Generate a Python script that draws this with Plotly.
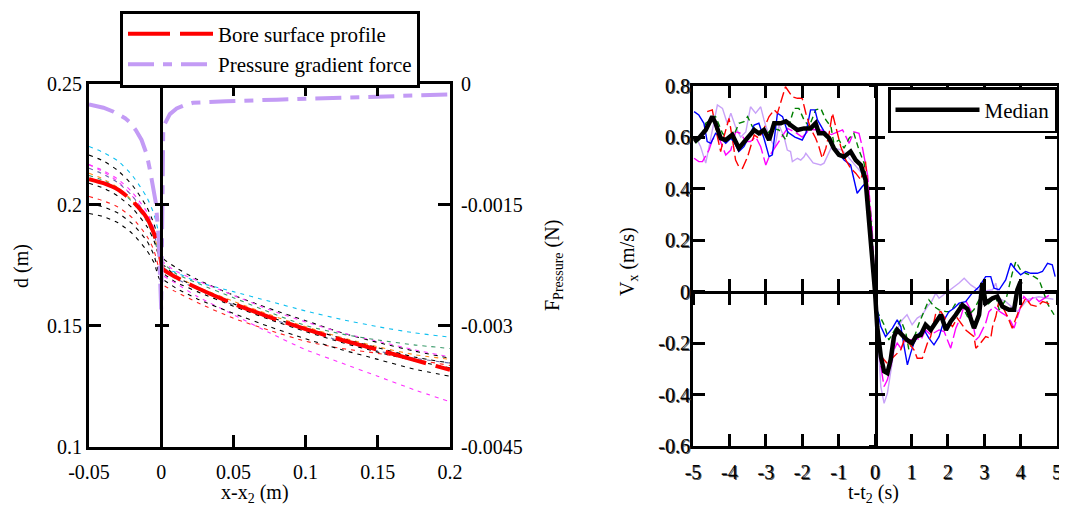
import plotly.graph_objects as go

# ---------------- Left panel data ----------------
x_prof = [-0.05, -0.04, -0.03, -0.02, -0.01, -0.005, -0.001,
          0.001, 0.01, 0.025, 0.05, 0.075, 0.1, 0.125, 0.15, 0.175, 0.2]
d_bore = [0.2105, 0.2088, 0.2062, 0.2015, 0.1945, 0.188, 0.180,
          0.1735, 0.170, 0.1655, 0.159, 0.1535, 0.1485, 0.144, 0.140, 0.1358, 0.1317]

d_cyan = [0.224, 0.2215, 0.218, 0.212, 0.203, 0.196, 0.186,
          0.174, 0.172, 0.168, 0.164, 0.160, 0.156, 0.1525, 0.1495, 0.147, 0.1452]
d_green = [0.212, 0.210, 0.2065, 0.201, 0.193, 0.186, 0.178,
           0.176, 0.1715, 0.1675, 0.1615, 0.1555, 0.150, 0.1465, 0.144, 0.142, 0.1405]
d_mag_low = [0.2165, 0.214, 0.2105, 0.205, 0.197, 0.190, 0.181,
             0.171, 0.1675, 0.162, 0.1545, 0.147, 0.140, 0.1345, 0.129, 0.1235, 0.1185]
d_red_thin = [0.2033, 0.2015, 0.199, 0.1945, 0.187, 0.181, 0.172,
              0.167, 0.164, 0.1595, 0.153, 0.148, 0.1435, 0.1405, 0.1385, 0.136, 0.1335]
d_blk_a = [0.2204, 0.218, 0.214, 0.208, 0.199, 0.192, 0.183,
           0.178, 0.174, 0.169, 0.1625, 0.157, 0.152, 0.147, 0.143, 0.1395, 0.1365]
d_blk_b = [0.1963, 0.195, 0.1925, 0.188, 0.181, 0.176, 0.169,
           0.169, 0.1655, 0.161, 0.155, 0.1495, 0.1445, 0.140, 0.136, 0.132, 0.129]
d_blk_c = [0.2088, 0.2068, 0.2035, 0.1985, 0.191, 0.185, 0.177,
           0.172, 0.168, 0.164, 0.158, 0.1525, 0.1475, 0.143, 0.139, 0.1355, 0.1325]
d_blk_d = [0.2004, 0.199, 0.1965, 0.192, 0.185, 0.179, 0.171,
           0.175, 0.1705, 0.1655, 0.159, 0.1535, 0.149, 0.1447, 0.1408, 0.137, 0.1345]
d_orange = [0.2129, 0.2105, 0.207, 0.2015, 0.1935, 0.187, 0.179,
            0.174, 0.1705, 0.166, 0.160, 0.1545, 0.1495, 0.145, 0.1412, 0.138, 0.136]
d_slate = [0.215, 0.2125, 0.209, 0.2035, 0.195, 0.188, 0.178,
           0.173, 0.1695, 0.165, 0.1585, 0.153, 0.148, 0.1435, 0.1395, 0.1365, 0.1345]
d_mag_up = [0.2164, 0.2135, 0.2095, 0.2035, 0.1955, 0.189, 0.180,
            0.1765, 0.1725, 0.1685, 0.1625, 0.1565, 0.1515, 0.147, 0.1435, 0.140, 0.137]

x_pgf = [-0.05, -0.04, -0.033, -0.025, -0.0217, -0.0175, -0.0136, -0.01, -0.0078, -0.0055,
         -0.0037, -0.0018, -0.0008, 0.0, 0.0004, 0.0008, 0.0014, 0.0025, 0.0037, 0.006,
         0.0107, 0.016, 0.022, 0.03, 0.045, 0.08, 0.12, 0.16, 0.2]
f_pgf = [-0.00026, -0.0003, -0.00035, -0.00043, -0.00048, -0.00058, -0.0007, -0.00088, -0.00107, -0.0013,
         -0.00148, -0.0019, -0.0024, -0.0028, -0.0022, -0.0012, -0.00058, -0.0005, -0.00045, -0.00038,
         -0.00031, -0.00027, -0.00024, -0.00023, -0.00022, -0.0002, -0.00018, -0.00016, -0.000136]

x_ticks_left = [-0.05, 0, 0.05, 0.1, 0.15, 0.2]
x_tick_text_left = ["-0.05", "0", "0.05", "0.1", "0.15", "0.2"]
d_ticks = [0.1, 0.15, 0.2, 0.25]
d_tick_text = ["0.1", "0.15", "0.2", "0.25"]
f_ticks = [0, -0.0015, -0.003, -0.0045]
f_tick_text = ["0", "-0.0015", "-0.003", "-0.0045"]

# ---------------- Right panel data ----------------
t_med = [-4.97, -4.84, -4.65, -4.47, -4.38, -4.24, -4.10, -3.92, -3.74, -3.60, -3.46, -3.32, -3.19, -3.05,
         -2.91, -2.77, -2.59, -2.45, -2.32, -2.13, -1.95, -1.77, -1.63, -1.54, -1.40, -1.26, -1.13, -0.99,
         -0.85, -0.67, -0.53, -0.39, -0.26, -0.16, -0.07, 0.0, 0.06, 0.16, 0.25, 0.34, 0.43, 0.52, 0.61,
         0.75, 0.88, 1.02, 1.12, 1.26, 1.39, 1.53, 1.67, 1.81, 1.95, 2.08, 2.22, 2.40, 2.54, 2.72, 2.86,
         2.95, 3.04, 3.23, 3.36, 3.50, 3.68, 3.82, 3.91, 4.0]
v_med = [0.583, 0.596, 0.628, 0.680, 0.654, 0.596, 0.589, 0.609, 0.557, 0.583, 0.609, 0.628, 0.615, 0.628,
         0.589, 0.654, 0.654, 0.662, 0.647, 0.628, 0.634, 0.634, 0.654, 0.615, 0.615, 0.596, 0.557, 0.531,
         0.524, 0.544, 0.511, 0.492, 0.434, 0.278, 0.097, 0.0, -0.136, -0.252, -0.310, -0.317, -0.265, -0.175,
         -0.149, -0.168, -0.188, -0.200, -0.175, -0.168, -0.129, -0.149, -0.116, -0.090, -0.149, -0.116,
         -0.090, -0.052, -0.068, -0.142, -0.090, 0.033, -0.045, -0.026, -0.019, -0.058, -0.071, -0.071,
         0.007, 0.039]

t_blue = [-4.97, -4.84, -4.70, -4.61, -4.51, -4.38, -4.24, -4.10, -3.96, -3.83, -3.74, -3.60, -3.46, -3.32,
          -3.19, -3.05, -2.91, -2.82, -2.68, -2.54, -2.40, -2.20, -2.00, -1.90, -1.77, -1.65, -1.58, -1.40,
          -1.21, -1.03, -0.85, -0.67, -0.58, -0.49, -0.35, -0.26, -0.12, 0.0, 0.06, 0.16, 0.29, 0.48, 0.61,
          0.71, 0.80, 0.89, 0.98, 1.07, 1.21, 1.35, 1.48, 1.62, 1.76, 1.90, 2.03, 2.17, 2.31, 2.49, 2.67,
          2.86, 3.04, 3.18, 3.27, 3.41, 3.59, 3.73, 3.87, 4.00, 4.14, 4.28, 4.46, 4.60, 4.74, 4.87, 4.95]
v_blue = [0.699, 0.686, 0.654, 0.583, 0.576, 0.615, 0.596, 0.576, 0.596, 0.570, 0.544, 0.563, 0.602, 0.647,
          0.654, 0.596, 0.524, 0.531, 0.693, 0.680, 0.62, 0.60, 0.589, 0.615, 0.706, 0.706, 0.667, 0.621,
          0.576, 0.544, 0.511, 0.492, 0.434, 0.382, 0.408, 0.421, 0.25, 0.0, -0.071, -0.136, -0.175, -0.142,
          -0.110, -0.136, -0.214, -0.285, -0.239, -0.200, -0.162, -0.149, -0.181, -0.207, -0.175, -0.110,
          -0.078, -0.065, -0.045, -0.039, -0.006, 0.019, 0.058, 0.058, 0.013, 0.007, 0.045, 0.110, 0.084,
          0.065, 0.078, 0.071, 0.071, 0.078, 0.110, 0.104, 0.058]

t_red = [-4.61, -4.47, -4.33, -4.24, -4.15, -4.01, -3.92, -3.83, -3.74, -3.64, -3.50, -3.32, -3.19, -3.05,
         -2.91, -2.77, -2.68, -2.59, -2.46, -2.27, -2.13, -2.00, -1.90, -1.77, -1.63, -1.54, -1.45, -1.35,
         -1.26, -1.17, -1.08, -0.94, -0.80, -0.67, -0.53, -0.39, -0.26, -0.16, -0.10, 0.0, 0.16, 0.34, 0.43,
         0.57, 0.71, 0.80, 0.93, 1.07, 1.16, 1.30, 1.44, 1.53, 1.67, 1.81, 1.95, 2.13, 2.26, 2.50, 2.72,
         2.77, 2.86, 3.04, 3.18, 3.23, 3.32, 3.41, 3.64, 3.77, 3.96, 4.14, 4.28, 4.46, 4.60, 4.74, 4.87]
v_red = [0.699, 0.706, 0.602, 0.544, 0.602, 0.673, 0.596, 0.511, 0.485, 0.479, 0.524, 0.609, 0.596, 0.634,
         0.680, 0.706, 0.693, 0.738, 0.796, 0.757, 0.751, 0.751, 0.693, 0.634, 0.596, 0.563, 0.518, 0.557,
         0.615, 0.693, 0.641, 0.563, 0.511, 0.479, 0.460, 0.434, 0.505, 0.343, 0.200, 0.0, -0.250, -0.280,
         -0.265, -0.246, -0.226, -0.188, -0.200, -0.226, -0.259, -0.259, -0.200, -0.175, -0.084, -0.078,
         -0.110, -0.136, -0.103, -0.150, -0.175, -0.220, -0.207, -0.175, -0.181, -0.136, -0.097, -0.032,
         -0.097, -0.142, -0.071, -0.026, -0.052, -0.058, -0.039, -0.045, -0.058]

t_grn = [-4.93, -4.79, -4.65, -4.51, -4.38, -4.19, -4.06, -3.87, -3.74, -3.60, -3.50, -3.37, -3.19, -3.00,
         -2.82, -2.64, -2.45, -2.32, -2.22, -2.09, -1.95, -1.81, -1.63, -1.49, -1.35, -1.21, -1.13, -0.99,
         -0.85, -0.71, -0.58, -0.44, -0.30, -0.21, -0.12, 0.0, 0.06, 0.16, 0.25, 0.38, 0.48, 0.57, 0.71,
         0.85, 0.93, 1.07, 1.21, 1.35, 1.48, 1.62, 1.76, 1.95, 2.08, 2.22, 2.40, 2.54, 2.72, 2.90, 3.10,
         3.32, 3.41, 3.60, 3.77, 3.87, 4.00, 4.14, 4.37, 4.51, 4.60, 4.75, 4.92]
v_grn = [0.576, 0.596, 0.654, 0.667, 0.680, 0.615, 0.596, 0.609, 0.654, 0.660, 0.680, 0.641, 0.621, 0.609,
         0.634, 0.628, 0.589, 0.667, 0.712, 0.712, 0.667, 0.641, 0.706, 0.712, 0.667, 0.641, 0.576, 0.589,
         0.557, 0.596, 0.615, 0.550, 0.499, 0.408, 0.304, 0.0, -0.078, -0.103, -0.129, -0.188, -0.162,
         -0.142, -0.110, -0.162, -0.226, -0.181, -0.123, -0.078, -0.032, -0.058, -0.071, -0.078, -0.078,
         -0.045, -0.058, -0.097, -0.070, -0.020, -0.050, -0.019, -0.071, -0.030, 0.071, 0.117, 0.084, 0.071,
         0.058, 0.045, 0.007, -0.050, -0.090]

t_mag = [-4.97, -4.84, -4.74, -4.56, -4.47, -4.33, -4.19, -4.10, -3.96, -3.83, -3.69, -3.55, -3.42, -3.28,
         -3.14, -3.00, -2.91, -2.73, -2.54, -2.41, -2.20, -2.00, -1.80, -1.49, -1.20, -0.89, -0.71, -0.58,
         -0.44, -0.35, -0.20, -0.08, 0.0, 0.16, 0.25, 0.34, 0.43, 0.52, 0.61, 0.71, 0.85, 0.98, 1.12, 1.26,
         1.39, 1.53, 1.76, 1.90, 1.99, 2.08, 2.22, 2.36, 2.49, 2.63, 2.77, 2.86, 3.04, 3.13, 3.27, 3.45,
         3.64, 3.73, 3.82, 4.09, 4.23, 4.37, 4.51, 4.74, 4.87]
v_mag = [0.518, 0.505, 0.505, 0.550, 0.589, 0.615, 0.563, 0.531, 0.550, 0.621, 0.615, 0.583, 0.583, 0.602,
         0.563, 0.492, 0.524, 0.563, 0.609, 0.634, 0.62, 0.60, 0.63, 0.628, 0.61, 0.628, 0.576, 0.621, 0.615,
         0.563, 0.45, 0.25, 0.0, -0.291, -0.369, -0.343, -0.291, -0.226, -0.200, -0.220, -0.188, -0.188,
         -0.181, -0.188, -0.149, -0.168, -0.149, -0.155, -0.188, -0.220, -0.142, -0.097, -0.035, -0.071,
         -0.188, -0.175, -0.123, -0.078, -0.058, -0.08, -0.097, -0.116, -0.142, -0.019, -0.039, -0.019,
         -0.039, -0.019, -0.006]

t_lav = [-4.93, -4.79, -4.65, -4.56, -4.45, -4.33, -4.19, -4.06, -3.96, -3.83, -3.69, -3.55, -3.42, -3.28,
         -3.14, -3.05, -2.90, -2.75, -2.64, -2.50, -2.41, -2.32, -2.27, -2.13, -2.04, -1.95, -1.90, -1.70,
         -1.49, -1.40, -1.20, -0.90, -0.60, -0.30, -0.10, 0.0, 0.16, 0.25, 0.34, 0.50, 0.60, 0.75, 0.88,
         1.02, 1.16, 1.30, 1.44, 1.55, 1.67, 1.76, 2.00, 2.31, 2.45, 2.63, 2.90, 3.23, 3.32, 3.41, 3.60,
         3.91, 4.20, 4.50, 4.90]
v_lav = [0.602, 0.563, 0.499, 0.563, 0.650, 0.725, 0.712, 0.654, 0.693, 0.640, 0.600, 0.620, 0.718, 0.693,
         0.718, 0.667, 0.600, 0.560, 0.647, 0.602, 0.550, 0.544, 0.505, 0.518, 0.511, 0.524, 0.537, 0.50,
         0.492, 0.499, 0.56, 0.55, 0.50, 0.45, 0.25, 0.0, -0.369, -0.434, -0.395, -0.250, -0.150, -0.110,
         -0.090, -0.129, -0.103, -0.09, -0.058, -0.04, -0.006, -0.026, 0.0, 0.033, 0.052, 0.026, 0.0, 0.007,
         0.033, -0.026, -0.040, -0.078, -0.030, -0.020, -0.030]

t_ticks = [-5, -4, -3, -2, -1, 0, 1, 2, 3, 4, 5]
t_tick_text = ["-5", "-4", "-3", "-2", "-1", "0", "1", "2", "3", "4", "5"]
v_ticks = [-0.6, -0.4, -0.2, 0, 0.2, 0.4, 0.6, 0.8]
v_tick_text = ["-0.6", "-0.4", "-0.2", "0", "0.2", "0.4", "0.6", "0.8"]

# ---------------- Geometry (window pixels -> paper) ----------------
# the page body has an 8px margin, so the figure is drawn 8px in from the top-left corner
OFF = 8
W, H = 1067 - OFF, 508 - OFF
FONT = "Liberation Serif, Times New Roman, serif"
SHADOW = "1px 1px 0px #555"


def px(v):
    return (v - OFF) / W


def py(v):
    return 1 - (v - OFF) / H


left_dom_x = [px(89), px(450)]
left_dom_y = [py(446.5), py(83.5)]
right_dom_x = [px(693), px(1057)]
right_dom_y = [py(446), py(85.7)]

fig = go.Figure()

# ---- left panel thin profiles ----
thin = [
    (d_cyan, "#10c0f0"), (d_blk_a, "#000000"), (d_mag_up, "#ff40ff"), (d_orange, "#ff8c1a"),
    (d_slate, "#6a6aa8"), (d_green, "#3a9a6a"), (d_blk_c, "#000000"), (d_mag_low, "#ff30ff"),
    (d_red_thin, "#ff2020"), (d_blk_d, "#000000"), (d_blk_b, "#000000"),
]
for dvals, col in thin:
    fig.add_trace(go.Scatter(x=x_prof, y=dvals, mode="lines", showlegend=False, hoverinfo="skip",
                             line=dict(color=col, width=1.1, dash="4px,5px", shape="spline", smoothing=0.6),
                             xaxis="x", yaxis="y"))

fig.add_trace(go.Scatter(x=x_prof, y=d_bore, mode="lines", name="Bore surface profile",
                         line=dict(color="#ff0000", width=4, dash="42px,10px", shape="spline", smoothing=0.6),
                         xaxis="x", yaxis="y", legend="legend"))
fig.add_trace(go.Scatter(x=x_pgf, y=f_pgf, mode="lines", name="Pressure gradient force",
                         line=dict(color="#c39bf5", width=4, dash="26px,9px,9px,9px"),
                         xaxis="x", yaxis="y2", legend="legend"))

# invisible markers registering the zero-line axes of the left panel
for ya in ["y3", "y4"]:
    fig.add_trace(go.Scatter(x=[0], y=[0.2], mode="markers", marker=dict(opacity=0), showlegend=False,
                             hoverinfo="skip", xaxis="x", yaxis=ya))

# ---- right panel ----
series = [
    (t_lav, v_lav, "#c8a2f8", "solid"),
    (t_mag, v_mag, "#ff00ff", "16px,4px"),
    (t_grn, v_grn, "#008000", "6px,4px"),
    (t_blue, v_blue, "#0000ff", "solid"),
    (t_red, v_red, "#ff0000", "11px,4px"),
]
for tt, vv, col, dash in series:
    fig.add_trace(go.Scatter(x=tt, y=vv, mode="lines", showlegend=False, hoverinfo="skip",
                             line=dict(color=col, width=1.4, dash=dash),
                             xaxis="x2", yaxis="y5"))
fig.add_trace(go.Scatter(x=t_med, y=v_med, mode="lines", name="Median",
                         line=dict(color="#000000", width=4.5),
                         xaxis="x2", yaxis="y5", legend="legend2"))

for xa, ya in [("x3", "y5"), ("x4", "y5"), ("x2", "y6"), ("x2", "y7")]:
    fig.add_trace(go.Scatter(x=[0], y=[0], mode="markers", marker=dict(opacity=0), showlegend=False,
                             hoverinfo="skip", xaxis=xa, yaxis=ya))

tickfont = dict(family=FONT, size=20, color="black")
tickfont_r = dict(family=FONT, size=20, color="black", shadow=SHADOW)

common = dict(showgrid=False, zeroline=False, showline=True, linecolor="black", ticks="inside",
              tickcolor="black", automargin=False)
bare = dict(showgrid=False, zeroline=False, showline=False, ticks="outside", tickcolor="black",
            automargin=False, showticklabels=False)

fig.update_layout(
    width=W, height=H, autosize=False,
    margin=dict(l=0, r=0, t=0, b=0),
    paper_bgcolor="white", plot_bgcolor="white",
    font=dict(family=FONT, size=20, color="black"),
    xaxis=dict(**common, domain=left_dom_x, range=[-0.05, 0.2], anchor="y",
               tickvals=x_ticks_left, ticktext=x_tick_text_left, ticklen=12, tickwidth=3, linewidth=3,
               mirror="ticks", tickfont=tickfont, ticklabelstandoff=5),
    yaxis=dict(**common, domain=left_dom_y, range=[0.1, 0.25], anchor="x",
               tickvals=d_ticks, ticktext=d_tick_text, ticklen=12, tickwidth=3, linewidth=3,
               tickfont=tickfont, ticklabelstandoff=0),
    yaxis2=dict(**common, overlaying="y", side="right", anchor="x", range=[-0.0045, 0],
                tickvals=f_ticks, ticktext=f_tick_text, ticklen=12, tickwidth=3, linewidth=3,
                tickfont=tickfont, ticklabelstandoff=4),
    yaxis3=dict(**common, overlaying="y", anchor="free", position=px(161.3), range=[0.1, 0.25],
                tickvals=[0.15, 0.2], ticklen=6, tickwidth=3, linewidth=2.5, showticklabels=False),
    yaxis4=dict(**bare, overlaying="y", anchor="free", position=px(161.3), range=[0.1, 0.25],
                tickvals=[0.15, 0.2], ticklen=6, tickwidth=3),
    xaxis2=dict(**common, domain=right_dom_x, range=[-5, 5], anchor="y5",
                tickvals=t_ticks, ticktext=t_tick_text, ticklen=12, tickwidth=3, linewidth=3,
                mirror="ticks", tickfont=tickfont_r, ticklabelstandoff=6),
    yaxis5=dict(**common, domain=right_dom_y, range=[-0.6, 0.8], anchor="x2",
                tickvals=v_ticks, ticktext=v_tick_text, ticklen=12, tickwidth=3, linewidth=3,
                mirror="ticks", tickfont=tickfont_r, ticklabelstandoff=-4),
    xaxis3=dict(**common, overlaying="x2", anchor="free", position=py(291.7), range=[-5, 5],
                tickvals=t_ticks, ticklen=12, tickwidth=3, linewidth=3, showticklabels=False),
    xaxis4=dict(**bare, overlaying="x2", anchor="free", position=py(291.7), range=[-5, 5],
                tickvals=t_ticks, ticklen=12, tickwidth=3),
    yaxis6=dict(**common, overlaying="y5", anchor="free", position=px(876), range=[-0.6, 0.8],
                tickvals=v_ticks, ticklen=7, tickwidth=3, linewidth=3, showticklabels=False),
    yaxis7=dict(**bare, overlaying="y5", anchor="free", position=px(876), range=[-0.6, 0.8],
                tickvals=v_ticks, ticklen=7, tickwidth=3),
    legend=dict(x=px(120), y=py(10.7), xanchor="left", yanchor="top", bgcolor="white",
                bordercolor="black", borderwidth=3, font=dict(family=FONT, size=21),
                itemwidth=85, tracegroupgap=0),
    legend2=dict(x=px(888), y=py(87), xanchor="left", yanchor="top", bgcolor="white",
                 bordercolor="black", borderwidth=2.5, font=dict(family=FONT, size=21),
                 itemwidth=84),
    showlegend=True,
)

ann = dict(xref="paper", yref="paper", showarrow=False, xanchor="center", yanchor="middle",
           font=dict(family=FONT, size=20, color="black"))
fig.add_annotation(text="d (m)", x=px(21), y=py(266), textangle=-90, **ann)
fig.add_annotation(text="F<sub>Pressure</sub> (N)", x=px(553), y=py(266), textangle=-90, **ann)
fig.add_annotation(text="V<sub>x</sub> (m/s)", x=px(628), y=py(262), textangle=-90, **ann)
fig.add_annotation(text="x-x<sub>2</sub> (m)", x=px(255), y=py(493), **ann)
fig.add_annotation(text="t-t<sub>2</sub> (s)", x=px(873), y=py(493), **ann)

fig.write_html("out.html")
